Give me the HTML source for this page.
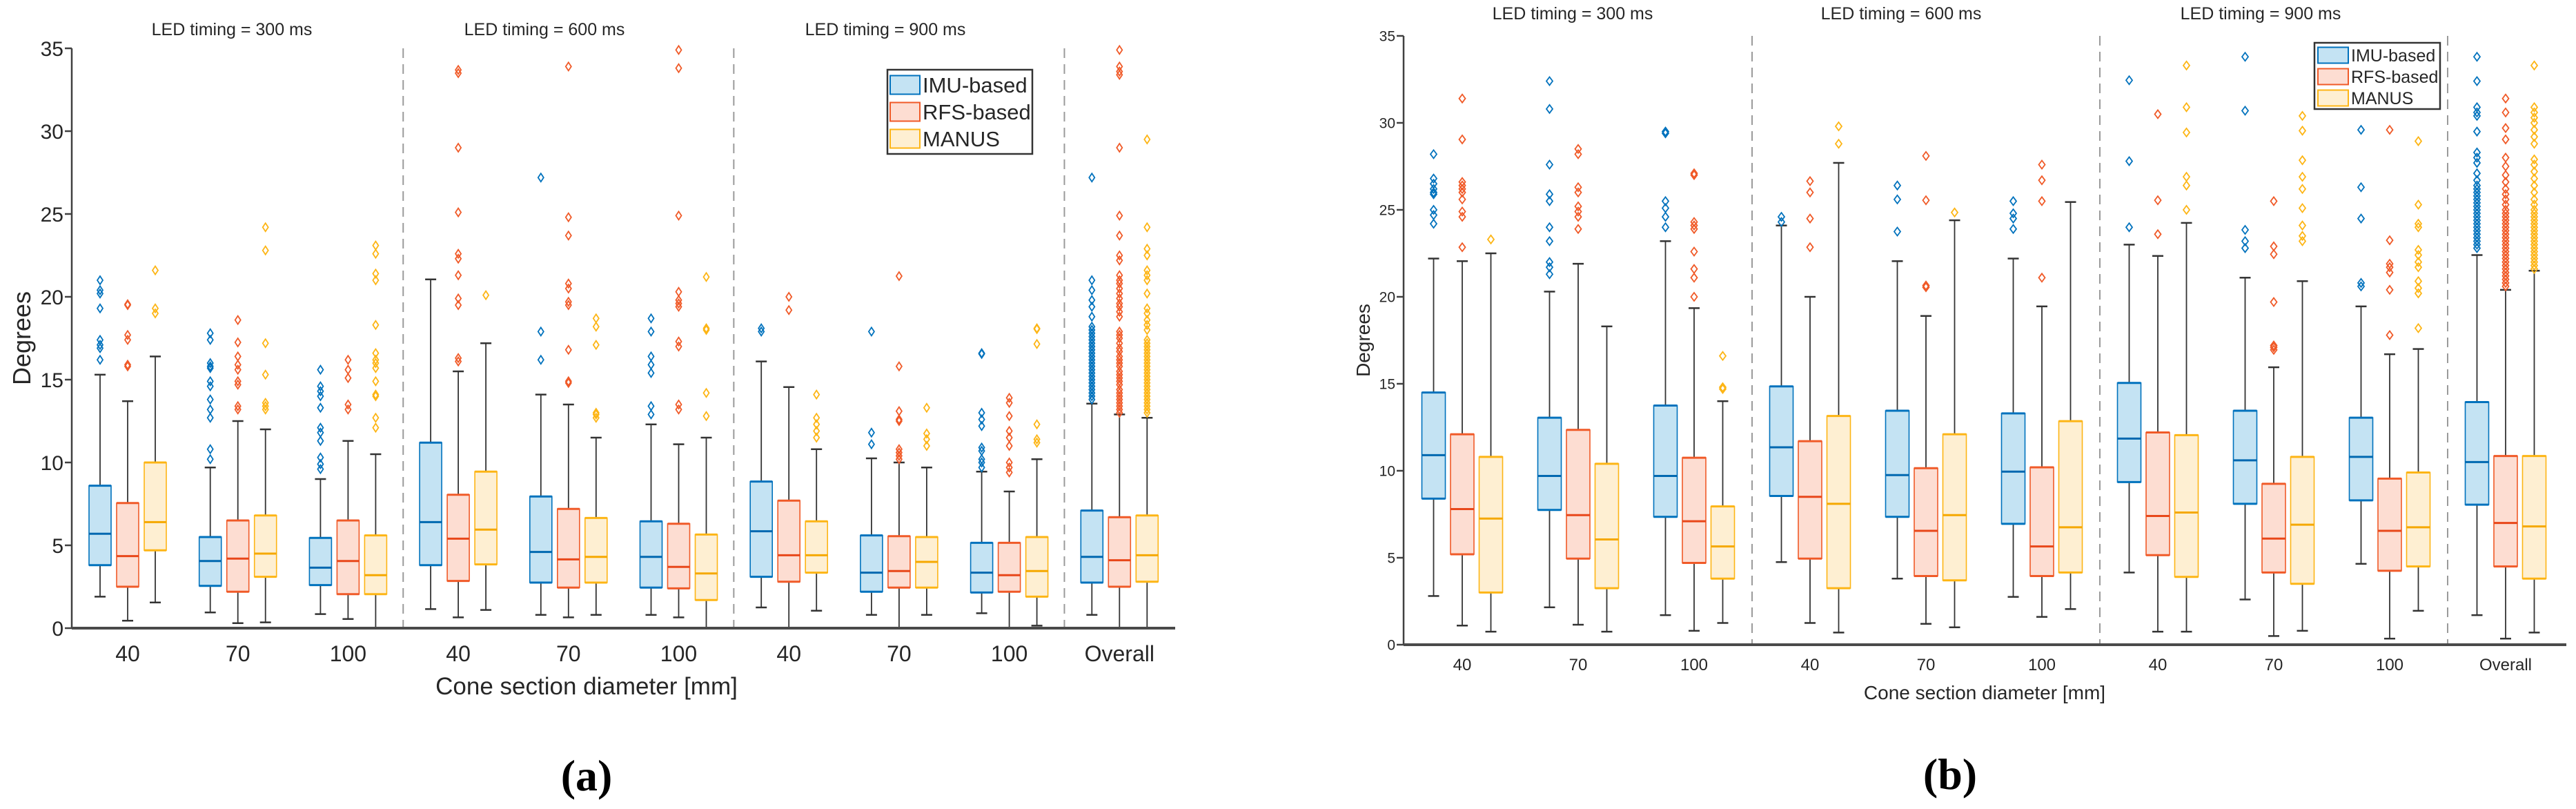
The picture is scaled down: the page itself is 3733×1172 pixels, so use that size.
<!DOCTYPE html>
<html><head><meta charset="utf-8"><style>
html,body{margin:0;padding:0;background:#fff;}
svg{display:block;}
text{font-family:"Liberation Sans",Arial,sans-serif;fill:#262626;}
</style></head><body>
<svg id="fig" width="3733" height="1172" viewBox="0 0 3733 1172" xmlns="http://www.w3.org/2000/svg"></svg>
<script>
// ---------- shared categories ----------
const categories = ["40","70","100","40","70","100","40","70","100","Overall"];
const seriesNames = ["IMU-based","RFS-based","MANUS"];
const yTicks = [0,5,10,15,20,25,30,35];
const ledTitles = ["LED timing = 300 ms","LED timing = 600 ms","LED timing = 900 ms"];

// ---------- panel (a) data: [lowerWhisker, q1, median, q3, upperWhisker] ----------
const leftImuBox = [[1.9,3.8,5.7,8.6,15.3],[0.95,2.55,4.05,5.5,9.7],[0.85,2.6,3.65,5.45,9.0],[1.15,3.8,6.4,11.2,21.05],[0.8,2.75,4.6,7.95,14.1],[0.8,2.45,4.3,6.45,12.3],[1.25,3.1,5.85,8.85,16.1],[0.8,2.2,3.35,5.6,10.25],[0.9,2.15,3.35,5.15,9.45],[0.8,2.75,4.3,7.1,13.55]];
const leftRfsBox = [[0.45,2.5,4.35,7.55,13.7],[0.3,2.2,4.2,6.5,12.5],[0.55,2.05,4.05,6.5,11.3],[0.65,2.85,5.4,8.05,15.5],[0.65,2.45,4.15,7.2,13.5],[0.65,2.4,3.7,6.3,11.1],[0,2.8,4.4,7.7,14.55],[0,2.45,3.45,5.55,10.0],[0,2.2,3.2,5.15,8.25],[0,2.5,4.1,6.7,12.9]];
const leftManBox = [[1.55,4.7,6.4,10.0,16.4],[0.35,3.1,4.5,6.8,12.0],[0,2.05,3.2,5.6,10.5],[1.1,3.85,5.95,9.45,17.2],[0.8,2.75,4.3,6.65,11.5],[0,1.7,3.3,5.65,11.5],[1.05,3.35,4.4,6.45,10.8],[0.8,2.45,4.0,5.5,9.7],[0.15,1.9,3.45,5.5,10.2],[0,2.8,4.4,6.8,12.7]];
const leftImuOut = [[16.2,16.9,17.1,17.4,19.3,20.2,20.4,21.0],[10.2,10.8,12.7,13.2,13.8,14.6,14.9,15.7,15.8,16.0,17.4,17.8],[9.6,9.9,10.3,11.3,11.8,12.1,13.3,14.0,14.3,14.6,15.6],[],[16.2,17.9,27.2],[12.9,13.4,15.4,15.9,16.4,17.9,18.7],[17.9,18.1],[11.1,11.8,17.9],[9.7,10.0,10.2,10.7,10.9,12.2,12.6,13.0,16.55,16.6],[13.8,14.0,14.2,14.4,14.6,14.8,15.0,15.2,15.4,15.6,15.8,16.0,16.2,16.4,16.6,16.8,17.0,17.2,17.4,17.6,17.8,18.0,18.2,18.8,19.4,19.8,20.4,21.0,27.2]];
const leftRfsOut = [[15.8,15.9,17.4,17.7,19.5,19.55],[13.2,13.4,14.7,14.9,15.6,15.9,16.4,17.25,18.6],[13.2,13.5,15.1,15.6,16.2],[16.1,16.3,19.5,19.9,21.3,22.3,22.6,25.1,29.0,33.5,33.7],[14.8,14.9,16.8,19.5,19.7,20.5,20.8,23.7,24.8,33.9],[13.2,13.5,17.0,17.3,19.4,19.6,19.8,20.3,24.9,33.8,34.9],[19.2,20.0],[10.2,10.4,10.6,10.8,12.5,12.6,13.1,15.8,21.25],[9.4,9.7,10.0,11.0,11.5,11.9,12.8,13.6,13.9],[13.0,13.2,13.4,13.6,13.8,14.0,14.2,14.4,14.7,14.9,15.1,15.3,15.5,15.8,16.0,16.2,16.4,16.7,16.9,17.2,17.5,17.7,17.9,18.8,19.1,19.4,19.6,19.9,20.2,20.5,20.8,21.0,21.3,22.2,22.5,23.7,24.9,29.0,33.4,33.6,33.9,34.9]];
const leftManOut = [[19.0,19.3,21.6],[13.2,13.4,13.6,15.3,17.2,22.8,24.2],[12.1,12.7,14.0,14.1,14.9,15.7,16.0,16.2,16.6,18.3,21.0,21.4,22.6,23.1],[20.1],[12.7,12.9,13.0,17.1,18.2,18.7],[12.8,14.2,18.0,18.1,21.2],[11.5,11.9,12.3,12.7,14.1],[11.0,11.4,11.75,13.3],[11.2,11.4,12.3,17.15,18.05,18.1],[13.0,13.2,13.4,13.6,13.8,14.0,14.2,14.4,14.6,14.8,15.0,15.2,15.4,15.6,15.8,16.0,16.2,16.4,16.6,16.8,17.0,17.2,17.4,18.0,18.3,18.6,19.0,19.3,20.2,21.0,21.3,21.6,22.5,22.9,24.2,29.5]];

// ---------- panel (b) data ----------
const rightImuBox = [[2.8,8.4,10.9,14.5,22.2],[2.15,7.75,9.7,13.05,20.3],[1.7,7.35,9.7,13.75,23.2],[4.75,8.55,11.35,14.85,24.1],[3.8,7.35,9.75,13.45,22.05],[2.75,6.95,9.95,13.3,22.2],[4.15,9.35,11.85,15.05,23.0],[2.6,8.1,10.6,13.45,21.1],[4.65,8.3,10.8,13.05,19.45],[1.7,8.05,10.5,13.95,22.4]];
const rightRfsBox = [[1.1,5.2,7.8,12.1,22.05],[1.15,4.95,7.45,12.35,21.9],[0.8,4.7,7.1,10.75,19.35],[1.25,4.95,8.5,11.7,20.0],[1.2,3.95,6.55,10.15,18.9],[1.6,3.95,5.65,10.2,19.45],[0.75,5.15,7.4,12.2,22.35],[0.5,4.15,6.1,9.25,15.95],[0.35,4.25,6.55,9.55,16.7],[0.35,4.5,7.0,10.85,20.4]];
const rightManBox = [[0.75,3.0,7.25,10.8,22.5],[0.75,3.25,6.05,10.4,18.3],[1.25,3.8,5.65,7.95,14.0],[0.7,3.25,8.1,13.15,27.7],[1.0,3.7,7.45,12.1,24.4],[2.05,4.15,6.75,12.85,25.45],[0.75,3.9,7.6,12.05,24.25],[0.8,3.5,6.9,10.8,20.9],[1.95,4.5,6.75,9.9,17.0],[0.7,3.8,6.8,10.85,21.5]];
const rightImuOut = [[24.2,24.7,25.0,25.9,26.0,26.2,26.5,26.8,28.2],[21.3,21.7,22.0,23.2,24.0,25.5,25.9,27.6,30.8,32.4],[24.0,24.6,25.1,25.5,29.4,29.5],[24.3,24.6],[23.75,25.6,26.4],[23.9,24.5,24.8,25.5],[24.0,27.8,32.45],[22.8,23.2,23.85,30.7,33.8],[20.6,20.8,24.5,26.3,29.6],[22.8,23.0,23.2,23.4,23.6,23.8,24.0,24.2,24.4,24.6,24.8,25.0,25.2,25.4,25.6,25.8,26.0,26.2,26.4,26.7,27.1,27.7,28.0,28.3,29.5,30.4,30.6,30.9,32.4,33.8]];
const rightRfsOut = [[22.85,24.6,24.9,25.6,26.0,26.2,26.4,26.6,29.05,31.4],[23.9,24.6,24.9,25.2,26.0,26.3,28.2,28.5],[20.0,21.1,21.6,22.6,23.9,24.1,24.3,27.0,27.1],[22.85,24.5,26.0,26.65],[20.55,20.65,25.55,28.1],[21.1,25.5,26.7,27.6],[23.6,25.55,30.5],[16.95,17.1,17.2,19.7,22.45,22.9,25.5],[17.8,20.4,21.4,21.7,21.9,23.25,29.6],[20.6,20.8,21.0,21.2,21.4,21.6,21.8,22.0,22.2,22.4,22.6,22.8,23.0,23.2,23.4,23.6,23.8,24.0,24.2,24.4,24.6,24.8,25.0,25.3,25.6,25.9,26.2,26.6,27.0,27.5,28.0,29.05,29.7,30.6,31.4]];
const rightManOut = [[23.3],[],[14.7,14.8,16.6],[28.8,29.8],[24.85],[],[25.0,26.4,26.9,29.45,30.9,33.3],[23.2,23.5,24.1,25.1,26.2,26.9,27.85,29.55,30.4],[18.2,20.2,20.5,20.9,21.7,22.0,22.4,22.7,24.0,24.2,25.3,28.95],[21.6,21.8,22.0,22.2,22.4,22.6,22.8,23.0,23.2,23.4,23.6,23.8,24.0,24.2,24.4,24.6,24.8,25.0,25.3,25.6,26.0,26.4,26.8,27.2,27.6,27.9,28.8,29.2,29.6,30.0,30.3,30.6,30.9,33.3]];

const NS = "http://www.w3.org/2000/svg";
const svg = document.getElementById("fig");
const edgeCols = ["#0072BD","#F05A28","#FDB515"];
const fillCols = ["#C4E3F3","#FDDDD2","#FEEFD2"];
const medCols = ["#0068B0","#E8471A","#F5A800"];

function mk(tag, attrs, parent){
  const e = document.createElementNS(NS, tag);
  for (const k in attrs) e.setAttribute(k, attrs[k]);
  (parent||svg).appendChild(e);
  return e;
}
function txt(s, attrs, parent){ const t = mk("text", attrs, parent); t.textContent = s; return t; }

function drawPanel(P, boxes, outs){
  const g = mk("g", {});
  
  
  const yS = v => P.y0 - v * P.ppu;
  const xS = i => P.x0 + P.gap * i;
  const yTop = yS(35);
  [2.5,5.5,8.5].forEach(k=>{
    const l = mk("line",{x1:xS(k),x2:xS(k),y1:yTop,y2:P.y0,stroke:"#9a9a9a","stroke-width":2,"stroke-dasharray":"14,9"},g);
    
    
  });
  const ya = mk("line",{x1:P.ax,x2:P.ax,y1:yTop,y2:P.y0,stroke:"#404040","stroke-width":2.5},g);
  
  
  yTicks.forEach(v=>{
    const tk = mk("line",{x1:P.ax-P.tick,x2:P.ax,y1:yS(v),y2:yS(v),stroke:"#404040","stroke-width":2.5},g);
    
    
    const tl = txt(String(v),{x:P.ax-P.tick-2,y:yS(v)+P.tickFs*0.36,"font-size":P.tickFs,"text-anchor":"end"},g);
    
    
  });
  const yl = txt("Degrees",{x:0,y:0,"font-size":P.ylFs,"text-anchor":"middle",transform:`translate(${P.ylX},${(yTop+P.y0)/2}) rotate(-90)`},g);
  
  
  for (let s=0;s<3;s++){
    for (let i=0;i<categories.length;i++){
      const cx = xS(i) + (s-1)*P.sp;
      const b = boxes[s][i];
      const bw = P.bw;
      const grp = mk("g",{},g);
      
      
      mk("line",{x1:cx,x2:cx,y1:yS(b[0]),y2:yS(b[1]),stroke:"#333","stroke-width":1.8},grp);
      mk("line",{x1:cx,x2:cx,y1:yS(b[3]),y2:yS(b[4]),stroke:"#333","stroke-width":1.8},grp);
      mk("line",{x1:cx-P.cap,x2:cx+P.cap,y1:yS(b[0]),y2:yS(b[0]),stroke:"#333","stroke-width":2.5},grp);
      mk("line",{x1:cx-P.cap,x2:cx+P.cap,y1:yS(b[4]),y2:yS(b[4]),stroke:"#333","stroke-width":2.5},grp);
      mk("rect",{x:cx-bw/2,y:yS(b[3]),width:bw,height:yS(b[1])-yS(b[3]),fill:fillCols[s],stroke:edgeCols[s],"stroke-width":1.6},grp);
      mk("line",{x1:cx-bw/2,x2:cx+bw/2,y1:yS(b[3]),y2:yS(b[3]),stroke:edgeCols[s],"stroke-width":3},grp);
      mk("line",{x1:cx-bw/2,x2:cx+bw/2,y1:yS(b[1]),y2:yS(b[1]),stroke:edgeCols[s],"stroke-width":3},grp);
      mk("line",{x1:cx-bw/2,x2:cx+bw/2,y1:yS(b[2]),y2:yS(b[2]),stroke:medCols[s],"stroke-width":3},grp);
      outs[s][i].forEach(v=>{
        const y = yS(v);
        const d = mk("path",{d:`M${cx},${y-P.dh}L${cx+P.dw},${y}L${cx},${y+P.dh}L${cx-P.dw},${y}Z`,fill:"none",stroke:edgeCols[s],"stroke-width":1.8},grp);
        
        
      });
    }
  }
  const xa = mk("line",{x1:P.ax,x2:P.xEnd,y1:P.y0,y2:P.y0,stroke:"#4a4a4a","stroke-width":4},g);
  
  
  categories.forEach((c,i)=>{
    const t = txt(c,{x:xS(i),y:P.xtY,"font-size":P.xtFs,"text-anchor":"middle"},g);
    
    
  });
  const xl = txt("Cone section diameter [mm]",{x:P.xlX,y:P.xlY,"font-size":P.xlFs,"text-anchor":"middle"},g);
  
  
  ledTitles.forEach((tt,k)=>{
    const t = txt(tt,{x:P.titleX[k],y:P.titleY,"font-size":P.titleFs,"text-anchor":"middle",fill:"#000"},g);
    
    
  });
  const L = P.leg;
  const lg = mk("g",{},g);
  
  
  mk("rect",{x:L.x,y:L.y,width:L.w,height:L.h,fill:"#fff",stroke:"#333","stroke-width":2.5},lg);
  seriesNames.forEach((n,s)=>{
    const cy = L.rows[s];
    const e = mk("g",{},lg);
    
    
    mk("rect",{x:L.sx,y:cy-L.sh/2,width:L.sw,height:L.sh,fill:fillCols[s],stroke:edgeCols[s],"stroke-width":2},e);
    txt(n,{x:L.tx,y:cy+L.fs*0.36,"font-size":L.fs,fill:"#000"},e);
  });
  const lab = txt(P.label,{x:P.labX,y:P.labY,"text-anchor":"middle",style:"font-family:'Liberation Serif',serif;font-weight:bold;font-size:64px;fill:#000"},g);
  
  
}

drawPanel({name:"panel-a",x0:185,gap:159.7,sp:40,bw:32,cap:8,ax:104,tick:10,xEnd:1703,y0:910,ppu:24,tickFs:30,ylFs:36,ylX:44,
  xtY:958,xtFs:32,xlX:850,xlY:1006,xlFs:35,titleX:[336,789,1283],titleY:51,titleFs:25,dw:4,dh:6,
  leg:{x:1286,y:101,w:210,h:122,rows:[123,162,201],sx:1290,sw:43,sh:27,tx:1337,fs:31},label:"(a)",labX:850,labY:1145},
  [leftImuBox,leftRfsBox,leftManBox],[leftImuOut,leftRfsOut,leftManOut]);

drawPanel({name:"panel-b",x0:2119,gap:168,sp:41.5,bw:34,cap:8,ax:2034,tick:10,xEnd:3719,y0:934,ppu:25.2,tickFs:21,ylFs:28,ylX:1985,
  xtY:971,xtFs:24,xlX:2876,xlY:1013,xlFs:28,titleX:[2279,2755,3276],titleY:28,titleFs:25,dw:4.5,dh:6,
  leg:{x:3354,y:62,w:182,h:96,rows:[80,111,142],sx:3359,sw:44,sh:23,tx:3407,fs:25},label:"(b)",labX:2826,labY:1143},
  [rightImuBox,rightRfsBox,rightManBox],[rightImuOut,rightRfsOut,rightManOut]);
</script>
</body></html>
